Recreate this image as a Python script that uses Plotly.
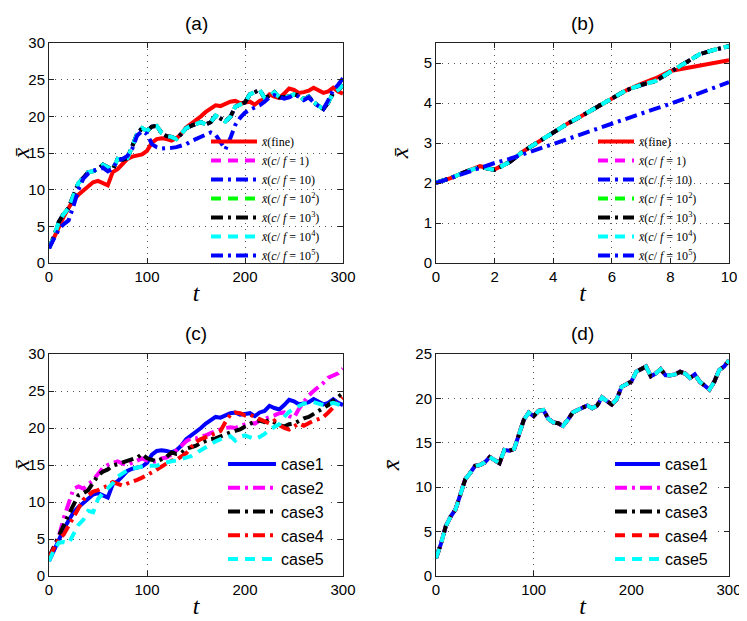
import plotly.graph_objects as go

# time grids
t_long = list(range(0, 301, 5))
t_short = [i * 0.5 for i in range(21)]

# panel (a)/(d): common coarse-model curve (c/f = 1 ... 1e4, all cases in (d))
x_main = [2.0, 3.6, 5.6, 6.7, 7.5, 9.2, 10.9, 11.6, 12.4, 12.5,
          12.8, 13.4, 13.0, 12.7, 14.2, 14.1, 14.3, 15.8, 17.6, 18.4,
          18.0, 18.6, 18.7, 17.7, 17.3, 17.2, 16.9, 17.6, 18.4, 18.7,
          18.9, 19.2, 18.9, 19.2, 20.1, 19.7, 19.3, 19.9, 21.3, 21.6,
          21.9, 23.0, 23.3, 23.6, 22.5, 22.8, 23.3, 22.6, 22.6, 22.7,
          23.0, 22.8, 22.3, 22.7, 21.9, 21.5, 21.0, 21.9, 23.2, 23.6, 24.3]
# fine-scale solution (red in (a), case1 in (c))
x_fine = [2.0, 3.5, 5.0, 6.3, 7.5, 8.6, 9.3, 9.9, 10.5, 11.0,
          11.2, 10.9, 10.6, 12.4, 12.8, 13.5, 14.2, 14.5, 14.6, 14.8,
          15.3, 16.4, 16.9, 17.0, 16.9, 16.7, 17.0, 17.6, 18.5, 19.0,
          19.4, 20.0, 20.6, 21.1, 21.5, 21.4, 21.7, 22.0, 22.1, 21.8,
          21.9, 22.0, 21.6, 22.1, 22.3, 23.0, 22.7, 22.5, 23.1, 23.8,
          23.6, 23.2, 23.3, 23.5, 23.9, 23.5, 23.2, 23.4, 23.9, 23.4, 23.1]
# c/f = 1e5 in (a)
x_cf5 = [2.0, 3.2, 4.6, 5.3, 5.8, 7.8, 10.0, 11.5, 12.2, 12.6,
         12.7, 13.0, 12.5, 12.9, 14.0, 14.2, 14.6, 15.6, 17.4, 18.0,
         17.6, 16.2, 15.8, 15.6, 15.6, 15.7, 15.8, 16.0, 16.2, 16.6,
         16.9, 17.1, 17.4, 17.8, 17.5, 16.4, 15.5, 17.0, 18.8, 19.8,
         20.5, 20.9, 21.2, 21.5, 22.0, 22.6, 22.9, 22.6, 22.4, 22.6,
         22.9, 22.7, 22.2, 22.6, 21.9, 21.4, 21.0, 22.2, 23.6, 24.3, 25.2]

# panel (c): cases 2-5
x_case2 = [2.5, 3.8, 5.3, 7.8, 10.0, 11.8, 12.1, 11.8, 12.4, 12.9,
           13.8, 14.6, 15.0, 15.3, 15.5, 15.2, 15.0, 15.3, 15.6, 15.9,
           15.6, 15.4, 15.5, 15.9, 16.0, 16.4, 17.0, 17.6, 18.2, 18.6,
           18.6, 18.9, 19.0, 19.3, 19.6, 19.8, 20.0, 20.1, 20.0, 20.3,
           20.5, 20.7, 20.6, 21.0, 21.2, 21.4, 21.7, 22.0, 22.1, 21.6,
           21.4, 22.6, 23.6, 24.4, 25.0, 25.5, 26.1, 26.8, 27.1, 27.4, 28.0]
x_case3 = [2.5, 4.0, 5.6, 7.0, 8.3, 9.6, 10.9, 11.2, 11.6, 12.6,
           13.6, 14.1, 14.4, 14.9, 15.1, 15.4, 15.5, 15.7, 16.0, 16.5,
           15.9, 15.7, 15.5, 15.8, 16.1, 16.7, 16.5, 16.6, 17.2, 17.4,
           17.6, 18.0, 18.3, 18.5, 18.6, 18.9, 19.1, 19.4, 19.6, 19.8,
           20.2, 20.5, 20.9, 21.0, 20.8, 21.1, 20.7, 20.4, 20.2, 20.5,
           20.6, 21.0, 21.3, 21.5, 21.9, 22.3, 22.6, 23.1, 23.7, 24.2, 24.7]
x_case4 = [2.5, 3.8, 5.0, 5.6, 6.8, 8.1, 9.2, 10.3, 10.9, 11.4,
           11.6, 11.9, 12.2, 12.7, 12.5, 12.2, 12.5, 12.7, 13.0, 13.3,
           13.6, 14.0, 14.4, 14.8, 15.2, 15.6, 15.7, 16.1, 16.6, 17.4,
           18.1, 18.5, 18.7, 19.0, 19.3, 19.6, 20.8, 21.8, 22.1, 22.0,
           21.7, 21.8, 21.5, 21.2, 20.9, 20.6, 21.0, 20.4, 20.0, 19.8,
           20.2, 20.6, 20.3, 20.7, 21.0, 21.2, 21.5, 22.1, 22.8, 23.5, 24.1]
x_case5 = [2.0, 3.5, 4.5, 4.6, 4.4, 5.8, 6.9, 7.6, 8.8, 8.6,
           10.4, 11.2, 11.8, 12.5, 13.4, 13.9, 14.3, 14.5, 14.7, 14.8,
           14.9, 14.9, 14.9, 15.2, 15.4, 15.5, 15.6, 15.8, 16.0, 16.2,
           16.6, 17.0, 17.5, 17.9, 18.2, 18.5, 18.7, 18.9, 18.3, 18.8,
           19.0, 18.7, 18.5, 18.8, 19.2, 19.8, 20.1, 20.5, 21.5, 22.2,
           22.6, 23.0, 23.3, 23.4, 23.5, 23.3, 23.1, 23.2, 23.4, 23.2, 22.9]

# panel (b): short-time curves
xb_main = [2.01, 2.12, 2.28, 2.40, 2.33, 2.52, 2.80, 3.03, 3.27, 3.49, 3.69,
           3.90, 4.10, 4.32, 4.45, 4.55, 4.78, 5.00, 5.22, 5.33, 5.42]
xb_fine = [2.01, 2.12, 2.28, 2.42, 2.34, 2.52, 2.80, 3.03, 3.27, 3.49, 3.69,
           3.90, 4.10, 4.32, 4.48, 4.62, 4.80, 4.87, 4.94, 5.00, 5.07]
xb_cf5 = [2.00, 2.13, 2.26, 2.38, 2.50, 2.60, 2.72, 2.86, 2.98, 3.10, 3.23,
          3.36, 3.49, 3.61, 3.73, 3.86, 3.98, 4.12, 4.25, 4.38, 4.52]

XB = "<i>x\u0304</i>"
labels_ab = [XB + "(fine)",
             XB + "(<i>c</i>/ <i>f</i> = 1)",
             XB + "(<i>c</i>/ <i>f</i> = 10)",
             XB + "(<i>c</i>/ <i>f</i> = 10<sup>2</sup>)",
             XB + "(<i>c</i>/ <i>f</i> = 10<sup>3</sup>)",
             XB + "(<i>c</i>/ <i>f</i> = 10<sup>4</sup>)",
             XB + "(<i>c</i>/ <i>f</i> = 10<sup>5</sup>)"]
case_labels = ["case1", "case2", "case3", "case4", "case5"]

DASH = "10px,7px"
DASHDOT = "12px,5px,3px,5px"
LW = 4

fig = go.Figure()

def add(x, y, name, color, dash, xa, ya, leg):
    fig.add_trace(go.Scatter(x=x, y=y, name=name, mode="lines",
                             line=dict(color=color, width=LW, dash=dash),
                             xaxis=xa, yaxis=ya, legend=leg))

# (a)
ab_styles = [("#ff0000", "solid"), ("#ff00ff", DASH), ("#0000ff", DASHDOT),
             ("#00ff00", DASH), ("#000000", DASHDOT), ("#00ffff", DASH),
             ("#0000ff", DASHDOT)]
a_data = [x_fine, x_main, x_main, x_main, x_main, x_main, x_cf5]
for lab, (c, d), y in zip(labels_ab, ab_styles, a_data):
    add(t_long, y, lab, c, d, "x", "y", "legend")

# (b)
b_data = [xb_fine, xb_main, xb_main, xb_main, xb_main, xb_main, xb_cf5]
for lab, (c, d), y in zip(labels_ab, ab_styles, b_data):
    add(t_short, y, lab, c, d, "x2", "y2", "legend2")

# (c)
c_styles = [("#0000ff", "solid"), ("#ff00ff", DASHDOT), ("#000000", DASHDOT),
            ("#ff0000", DASHDOT), ("#00ffff", DASH)]
c_data = [x_fine, x_case2, x_case3, x_case4, x_case5]
for lab, (c, d), y in zip(case_labels, c_styles, c_data):
    add(t_long, y, lab, c, d, "x3", "y3", "legend3")

# (d)
d_styles = [("#0000ff", "solid"), ("#ff00ff", DASHDOT), ("#000000", DASHDOT),
            ("#ff0000", DASH), ("#00ffff", DASH)]
for lab, (c, d) in zip(case_labels, d_styles):
    add(t_long, x_main, lab, c, d, "x4", "y4", "legend4")

SANS = "Liberation Sans, Arial, sans-serif"
SERIF = "Liberation Serif, Times New Roman, serif"

# the page puts the figure 8px in from the top-left corner of the window
W, H, OFF = 739, 613, 8

def px(X):
    return (X - OFF) / W

def py(Y):
    return 1 - (Y - OFF) / H

def common_axis(dom, rng, dtick, anchor):
    return dict(domain=dom, range=rng, dtick=dtick, anchor=anchor, automargin=False,
                showline=True, linecolor="#222222", linewidth=1, mirror="ticks",
                ticks="inside", ticklen=5, tickcolor="#222222",
                showgrid=True, gridcolor="#555555", griddash="1px,5px", gridwidth=1,
                zeroline=False, tickfont=dict(family=SANS, size=15, color="black"))

def xax(dom, rng, dtick, anchor):
    ax = common_axis(dom, rng, dtick, anchor)
    ax["title"] = dict(text="<i>t</i>", standoff=0,
                       font=dict(family=SERIF, size=24, color="black"))
    return ax

def yax(dom, rng, dtick, anchor):
    ax = common_axis(dom, rng, dtick, anchor)
    ax["title"] = dict(text=XB, standoff=8,
                       font=dict(family=SERIF, size=24, color="black"))
    return ax

XL = [px(49), px(343)]
XR = [px(436), px(729)]
YT = [py(263), py(43)]
YB = [py(576), py(354)]

def legend_box(x, y, size, family, bg, iw):
    return dict(x=x, y=y, xanchor="left", yanchor="top", xref="paper", yref="paper",
                bgcolor=bg, borderwidth=0,
                font=dict(family=family, size=size, color="black"),
                tracegroupgap=0, itemwidth=iw)

fig.update_layout(
    width=W, height=H,
    margin=dict(l=0, r=0, t=0, b=0, autoexpand=False),
    paper_bgcolor="white", plot_bgcolor="white",
    showlegend=True,
    xaxis=xax(XL, [0, 300], 100, "y"),
    yaxis=yax(YT, [0, 30], 5, "x"),
    xaxis2=xax(XR, [0, 10], 2, "y2"),
    yaxis2=yax(YT, [0, 5.5], 1, "x2"),
    xaxis3=xax(XL, [0, 300], 100, "y3"),
    yaxis3=yax(YB, [0, 30], 5, "x3"),
    xaxis4=xax(XR, [0, 300], 100, "y4"),
    yaxis4=yax(YB, [0, 25], 5, "x4"),
    legend=legend_box(px(206), py(127), 12, SERIF, "rgba(255,255,255,0)", 46),
    legend2=legend_box(px(593), py(127), 12, SERIF, "rgba(255,255,255,0)", 36),
    legend3=legend_box(px(223), py(447), 16, SANS, "white", 48),
    legend4=legend_box(px(610), py(447), 16, SANS, "white", 45),
)

for txt, cx, cy in [("(a)", 196, 23), ("(b)", 582, 23), ("(c)", 196, 334), ("(d)", 582, 334)]:
    fig.add_annotation(text=txt, x=px(cx), y=py(cy), xref="paper", yref="paper",
                       xanchor="center", yanchor="middle", showarrow=False,
                       font=dict(family=SANS, size=19, color="black"))

fig.write_html("out.html")
